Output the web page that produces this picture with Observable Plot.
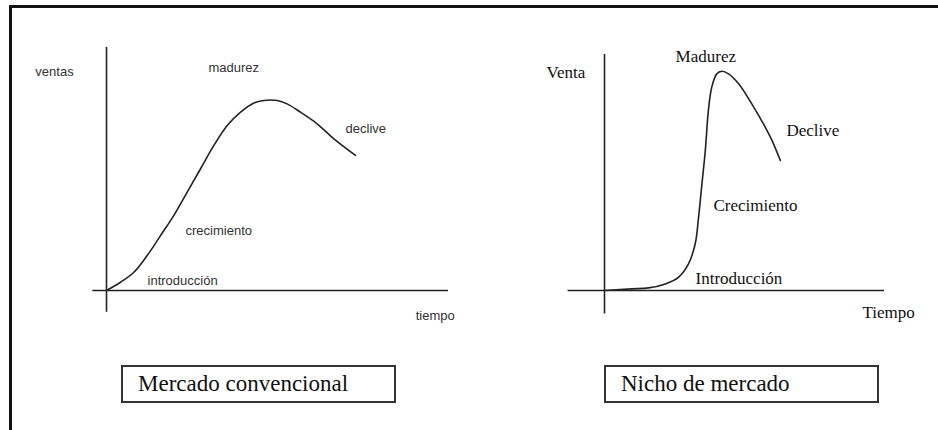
<!DOCTYPE html>
<html>
<head>
<meta charset="utf-8">
<script src="https://cdn.jsdelivr.net/npm/d3@7"></script>
<script src="https://cdn.jsdelivr.net/npm/@observablehq/plot@0.6"></script>
<style>
  html, body { margin: 0; padding: 0; background: #fff; overflow: hidden; }
  #page { position: relative; width: 938px; height: 430px; overflow: hidden; background: #fff; }
  #frameTop { position: absolute; left: 9px; top: 5px; width: 929px; height: 2.5px; background: #111; }
  #frameLeft { position: absolute; left: 9px; top: 5px; width: 2.5px; height: 425px; background: #111; }
  .panel { position: absolute; top: 0; }
  .caption { position: absolute; top: 365px; height: 38px; box-sizing: border-box; border: 2px solid #333;
             font-family: "Liberation Serif", "Times New Roman", serif; font-size: 23px; line-height: 34px;
             color: #111; padding-left: 15px; white-space: nowrap; }
</style>
</head>
<body>
<div id="page">
  <div id="frameTop"></div>
  <div id="frameLeft"></div>
  <div id="left" class="panel" style="left:0px"></div>
  <div id="right" class="panel" style="left:469px"></div>
  <div class="caption" id="capL" style="left:121px; width:275px;"></div>
  <div class="caption" id="capR" style="left:604px; width:275px;"></div>
</div>
<script>
// ---------- Data (time / sales in arbitrary units, 0..100 along each axis) ----------
// Conventional market life cycle
const convTime  = [0, 4.1, 8.0, 11.9, 15.8, 19.7, 23.6, 27.5, 31.4, 35.3, 39.2, 43.1, 46.0, 49.9, 52.8, 56.7, 61.6, 66.5, 72.8];
const convSales = [0, 3.4, 7.5, 14.4, 22.6, 30.9, 40.5, 50.1, 59.7, 67.9, 73.4, 77.2, 78.2, 78.2, 76.8, 73.4, 68.6, 62.4, 55.6];
// Niche market life cycle
const nicheTime  = [0, 9.8, 15.7, 21.7, 26.4, 30.0, 32.4, 33.6, 34.8, 36.0, 37.1, 38.3, 40.1, 41.9, 44.3, 47.9, 52.6, 57.4, 59.8, 62.8];
const nicheSales = [0, 0.7, 1.1, 2.8, 5.6, 11.3, 19.8, 31.1, 45.2, 59.3, 76.3, 86.1, 91.8, 92.9, 91.8, 87.6, 79.1, 69.2, 63.6, 55.1];

// Axis extents (time axis and sales axis, in data units)
const convAxisTime  = [-4, 100];
const convAxisSales = [-9, 100];
const nicheAxisTime  = [-13, 100];
const nicheAxisSales = [-10, 100];

// Labels
const convLabels  = ["ventas", "madurez", "declive", "crecimiento", "introducción", "tiempo"];
const convLabelT  = [-20.8, 29.8, 69.9, 23.1, 12.0, 90.4];
const convLabelS  = [90.1, 91.8, 66.7, 24.7, 4.1, -10.3];
const nicheLabels = ["Venta", "Madurez", "Declive", "Crecimiento", "Introducción", "Tiempo"];
const nicheLabelT = [-20.7, 25.4, 65.0, 38.9, 32.5, 92.1];
const nicheLabelS = [92.4, 99.2, 67.8, 36.0, 5.1, -9.3];

const captions = ["Mercado convencional", "Nicho de mercado"];

// ---------- Build ----------
function panel({time, sales, axT, axS, labels, labT, labS, ml, mr, mt, font, fontSize, textColor}) {
  const curve = time.map((t, i) => ({t, s: sales[i]}));
  const labs = labels.map((text, i) => ({text, t: labT[i], s: labS[i]}));
  return Plot.plot({
    width: 469, height: 340,
    marginLeft: ml, marginRight: mr, marginTop: mt, marginBottom: 50,
    x: {domain: [0, 100], axis: null},
    y: {domain: [0, 100], axis: null},
    style: {background: "transparent", overflow: "visible"},
    marks: [
      Plot.ruleX([0], {y1: axS[0], y2: axS[1], stroke: "#222", strokeWidth: 1.6}),
      Plot.ruleY([0], {x1: axT[0], x2: axT[1], stroke: "#222", strokeWidth: 1.6}),
      Plot.line(curve, {x: "t", y: "s", curve: "catmull-rom", stroke: "#222", strokeWidth: 1.6}),
      Plot.text(labs, {x: "t", y: "s", text: "text", textAnchor: "start", lineAnchor: "middle",
                       fontFamily: font, fontSize, fill: textColor})
    ]
  });
}

document.getElementById("left").appendChild(panel({
  time: convTime, sales: convSales, axT: convAxisTime, axS: convAxisSales,
  labels: convLabels, labT: convLabelT, labS: convLabelS,
  ml: 106, mr: 21, mt: 47, font: "Liberation Sans, Arial, sans-serif", fontSize: 13, textColor: "#333"
}));
document.getElementById("right").appendChild(panel({
  time: nicheTime, sales: nicheSales, axT: nicheAxisTime, axS: nicheAxisSales,
  labels: nicheLabels, labT: nicheLabelT, labS: nicheLabelS,
  ml: 135, mr: 54, mt: 54, font: "Liberation Serif, Times New Roman, serif", fontSize: 17, textColor: "#111"
}));
document.getElementById("capL").textContent = captions[0];
document.getElementById("capR").textContent = captions[1];
</script>
</body>
</html>
